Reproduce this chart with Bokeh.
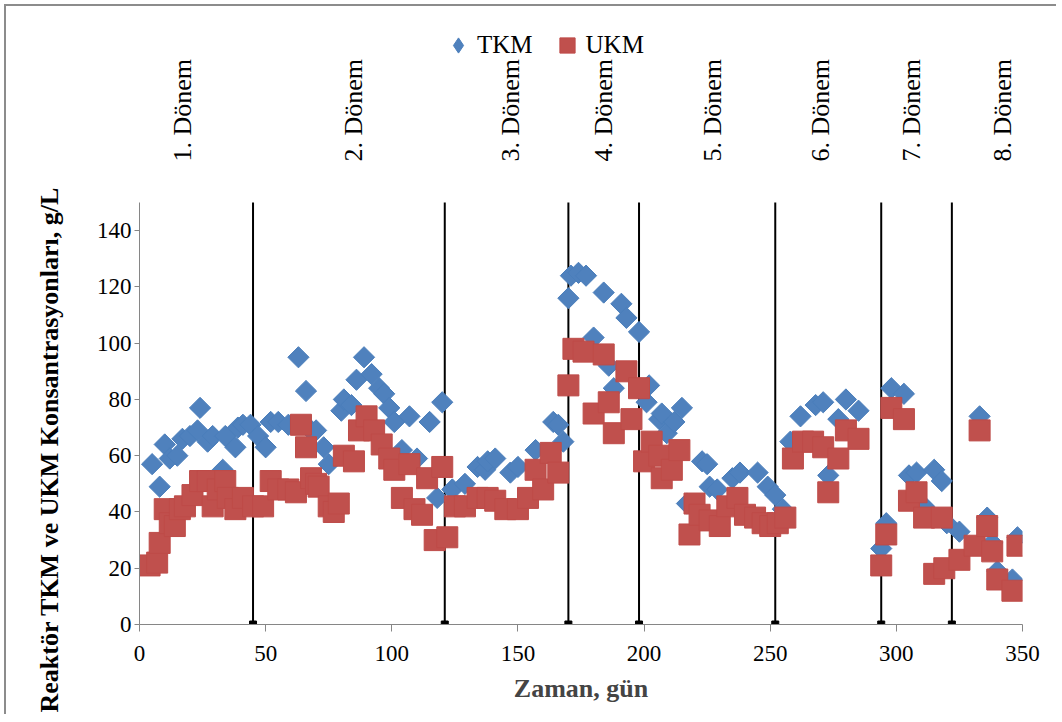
from math import pi

from bokeh.core.properties import value
from bokeh.embed import file_html
from bokeh.models import FixedTicker, Legend, LegendItem, Range1d, Title
from bokeh.plotting import figure
from bokeh.resources import INLINE

# TKM (total solids) measurements: day, g/L
tkm_day = [5, 8, 10, 12, 15, 17, 20, 23, 24, 27, 29, 33, 34, 38, 39, 41, 44, 47, 50,
           52, 55, 59, 63, 66, 68, 70, 73, 75, 80, 81, 84, 86, 89, 92, 95, 97, 99,
           101, 104, 107, 110, 115, 118, 120, 124, 129, 134, 137, 138, 141, 147, 150,
           157, 164, 166, 168, 170, 171, 174, 177, 180, 184, 186, 188, 191, 193, 198,
           201, 202, 206, 207, 209, 212, 215, 217, 223, 225, 226, 229, 235, 238, 245,
           249, 252, 255, 258, 262, 268, 271, 273, 277, 280, 285, 294, 296, 298, 303,
           305, 308, 311, 315, 318, 320, 325, 333, 336, 338, 340, 346, 348]
tkm_val = [57, 49, 64, 59, 60, 66, 67, 69, 77, 65, 67, 55, 67, 63, 70, 71, 71, 67, 63,
           72, 72, 71, 95, 83, 69, 69, 63, 57, 76, 80, 78, 87, 95, 89, 84, 82, 77,
           72, 62, 74, 59, 72, 45, 79, 48, 50, 56, 55, 58, 59, 54, 56,
           62, 72, 71, 65, 116, 124, 125, 124, 102, 118, 92, 84, 114, 109, 104,
           79, 85, 73, 75, 68, 72, 77, 43, 58, 57, 49, 48, 52, 54, 54,
           49, 46, 41, 65, 74, 78, 79, 53, 73, 80, 76, 27, 36, 84, 82,
           53, 54, 42, 55, 51, 36, 33, 74, 38, 29, 19, 16, 31]

# UKM (volatile solids) measurements: day, g/L
ukm_day = [4, 7, 8, 10, 12, 14, 16, 18, 21, 24, 27, 29, 31, 34, 35, 38, 41, 45, 49,
           52, 55, 59, 62, 64, 66, 68, 70, 71, 75, 77, 79, 81, 85, 87, 90, 93, 96,
           99, 101, 104, 107, 109, 112, 114, 117, 120, 122, 125, 129, 134, 138, 141,
           145, 150, 154, 157, 160, 163, 166, 170, 172, 176, 180, 184, 186, 188, 193,
           195, 198, 200, 203, 206, 207, 211, 214, 218, 220, 222, 226, 230, 233, 237,
           240, 244, 247, 250, 253, 256, 259, 263, 267, 271, 273, 277, 280, 285, 294,
           296, 298, 303, 305, 308, 311, 315, 318, 319, 325, 331, 333, 336, 338, 340,
           346, 348]
ukm_val = [21, 22, 29, 41, 36, 35, 41, 42, 46, 51, 51, 42, 48, 51, 45, 41, 45, 42, 42,
           51, 48, 48, 47, 71, 63, 52, 50, 49, 42, 40, 43, 60, 58, 69, 74, 69, 64,
           59, 55, 45, 57, 41, 39, 52, 30, 56, 31, 42, 42, 45, 45, 44,
           41, 41, 45, 55, 48, 61, 54, 85, 98, 97, 75, 96, 79, 68, 90,
           73, 84, 58, 65, 60, 52, 55, 62, 32, 43, 39, 37, 35, 42, 45,
           39, 38, 36, 35, 36, 38, 59, 65, 65, 63, 47, 59, 69, 66, 21,
           32, 77, 73, 44, 47, 38, 18, 38, 20, 23, 28, 69, 35, 26, 16,
           12, 28]

# Operating periods: boundaries (day) and names
period_bounds = [45, 121, 170, 198, 252, 294, 322]
period_names = ["1. Dönem", "2. Dönem", "3. Dönem", "4. Dönem",
                "5. Dönem", "6. Dönem", "7. Dönem", "8. Dönem"]

y_ticks = [0, 20, 40, 60, 80, 100, 120, 140]
x_ticks = [0, 50, 100, 150, 200, 250, 300, 350]

FONT = "Liberation Serif"
BLUE, BLUE_EDGE = "#4F81BD", "#4A7EBB"
RED, RED_EDGE = "#C0504D", "#BE4B48"
AXIS_GREY = "#868686"

Y_MAX = 150          # top of the measurement axis
Y_TOP = 214          # headroom above it for the period captions and the key
CAPTION_Y = 164.6    # foot of the rotated period captions
period_label_at = [17, 85, 147, 184, 227, 270, 306, 342]

p = figure(width=1052, height=710, output_backend="svg", toolbar_location=None,
           x_range=Range1d(0, 350), y_range=Range1d(0, Y_TOP),
           min_border_left=132, min_border_right=36,
           min_border_top=16, min_border_bottom=92)
p.styles = {"margin-left": "6px", "margin-top": "6px",
            "box-shadow": "-2px -2px 0 0 #8c8c8c"}
p.outline_line_color = None
p.xgrid.visible = False
p.ygrid.visible = False
p.background_fill_color = "white"
p.border_fill_color = "white"

for ax in (p.xaxis[0], p.yaxis[0]):
    ax.axis_line_color = AXIS_GREY
    ax.major_tick_line_color = AXIS_GREY
    ax.minor_tick_line_color = None
    ax.major_tick_in = 0
    ax.major_label_text_font = FONT
    ax.major_label_text_font_size = "23px"
    ax.major_label_text_color = "black"

p.xaxis.ticker = FixedTicker(ticks=x_ticks)
p.yaxis.ticker = FixedTicker(ticks=y_ticks)
p.yaxis.bounds = (0, Y_MAX)
p.xaxis.major_tick_out = 7
p.yaxis.major_tick_out = 5
p.xaxis.major_label_standoff = 14
p.yaxis.major_label_standoff = 3
p.xaxis.axis_label = "Zaman, gün"
p.xaxis.axis_label_text_font = FONT
p.xaxis.axis_label_text_font_style = "bold"
p.xaxis.axis_label_text_font_size = "26px"
p.xaxis.axis_label_standoff = 10

# period boundaries
p.segment(x0=period_bounds, y0=[0] * len(period_bounds),
          x1=period_bounds, y1=[Y_MAX] * len(period_bounds),
          line_color="black", line_width=2)
p.scatter(period_bounds, [0] * len(period_bounds), marker="square", size=7,
          fill_color="black", line_color="black")

r_tkm = p.scatter(tkm_day, tkm_val, marker="square", angle=pi / 4, size=15,
                  fill_color=BLUE, line_color=BLUE_EDGE, line_width=1)
r_ukm = p.scatter(ukm_day, ukm_val, marker="square", size=21,
                  fill_color=RED, line_color=RED_EDGE, line_width=1)

# rotated period captions above the boundaries
p.text(x=period_label_at, y=[CAPTION_Y] * len(period_names), text=period_names,
       angle=pi / 2, text_align="left", text_baseline="middle",
       text_font=value(FONT), text_font_size="26px", text_color="black")

# the TKM key is a diamond; this hidden twin of the series only feeds the legend
key_tkm = p.scatter(tkm_day, tkm_val, marker="diamond", fill_color=BLUE,
                    line_color=BLUE_EDGE, visible=False)
legend = Legend(items=[LegendItem(label="TKM", renderers=[key_tkm]),
                       LegendItem(label="UKM", renderers=[r_ukm])],
                orientation="horizontal", location=(300, 560),
                label_text_font=FONT, label_text_font_size="25px",
                label_text_color="black",
                glyph_width=38, glyph_height=38, label_standoff=-6, spacing=15,
                padding=0, margin=0, background_fill_alpha=0, border_line_alpha=0,
                inactive_fill_alpha=0)
p.add_layout(legend)

p.add_layout(Title(text="Reaktör TKM ve UKM Konsantrasyonları, g/L",
                   align="left", vertical_align="top", offset=-88, standoff=56,
                   text_font=FONT, text_font_style="bold", text_font_size="26px",
                   text_color="black"), "left")

open("out.html", "w").write(file_html(p, INLINE))
